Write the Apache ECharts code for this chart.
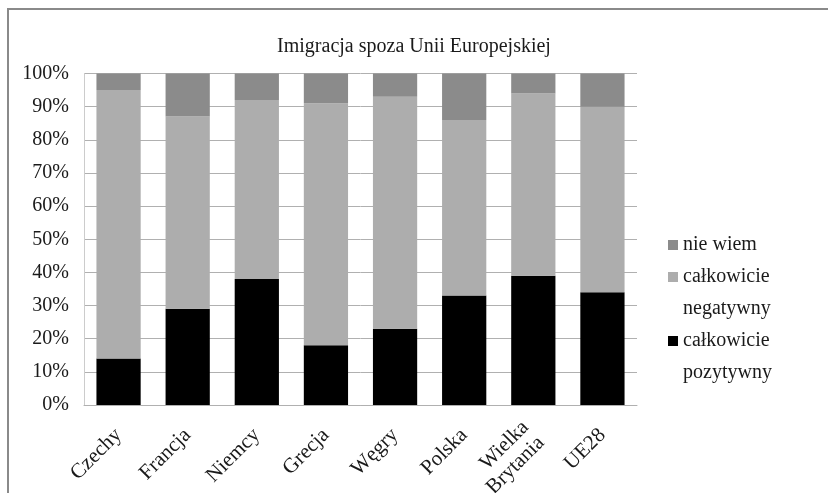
<!DOCTYPE html>
<html>
<head>
<meta charset="utf-8">
<script src="https://cdn.jsdelivr.net/npm/echarts@6/dist/echarts.min.js"></script>
<style>
html,body{margin:0;padding:0;background:#fff;}
#chart{width:828px;height:493px;}
</style>
</head>
<body>
<div id="chart"></div>
<script>
const categories = ['Czechy','Francja','Niemcy','Grecja','Węgry','Polska','Wielka Brytania','UE28'];
const pozytywny = [14, 29, 38, 18, 23, 33, 39, 34];
const negatywny = [81, 58, 54, 73, 70, 53, 55, 56];
const nieWiem = [5, 13, 8, 9, 7, 14, 6, 10];
const yTicks = [0,10,20,30,40,50,60,70,80,90,100];

const FONT = '"Liberation Serif", "Times New Roman", serif';
const chart = echarts.init(document.getElementById('chart'));
chart.setOption({
  backgroundColor: '#fff',
  animation: false,
  title: {
    text: 'Imigracja spoza Unii Europejskiej',
    left: 'center', top: 32,
    textStyle: {fontFamily: FONT, fontSize: 20, fontWeight: 'normal', color: '#1a1a1a'}
  },
  graphic: [{
    type: 'rect', silent: true,
    shape: {x: 8, y: 9, width: 900, height: 600},
    style: {fill: 'none', stroke: '#8a8a8a', lineWidth: 2}
  }],
  legend: {
    orient: 'vertical',
    left: 668, top: 229,
    padding: 0,
    itemWidth: 10, itemHeight: 10,
    itemGap: -32,
    icon: 'rect',
    data: ['nie wiem', 'całkowicie negatywny', 'całkowicie pozytywny'],
    formatter: n => n.indexOf('całkowicie ') === 0 ? '\n' + n.replace('całkowicie ', 'całkowicie\n') : n,
    textStyle: {fontFamily: FONT, fontSize: 20, color: '#1a1a1a', lineHeight: 32}
  },
  grid: {left: 84, right: 191, top: 73.5, bottom: 88, containLabel: false, outerBoundsMode: 'none'},
  xAxis: {
    type: 'category',
    data: categories,
    axisLine: {lineStyle: {color: '#b0b0b0', width: 1}},
    axisTick: {show: false},
    axisLabel: {
      rotate: 45, interval: 0, margin: 27,
      fontFamily: FONT, fontSize: 21, color: '#1a1a1a', lineHeight: 22,
      formatter: v => v.replace(' ', '\n')
    }
  },
  yAxis: {
    type: 'value',
    min: 0, max: 100, interval: 10,
    axisLine: {show: true, lineStyle: {color: '#cccccc'}},
    axisTick: {show: false},
    splitLine: {lineStyle: {color: '#b0b0b0', width: 1}},
    axisLabel: {
      margin: 15,
      fontFamily: FONT, fontSize: 20, color: '#1a1a1a',
      customValues: yTicks,
      formatter: '{value}%'
    }
  },
  series: [
    {name: 'całkowicie pozytywny', type: 'bar', stack: 's', data: pozytywny, barCategoryGap: '36%', itemStyle: {color: '#000000'}},
    {name: 'całkowicie negatywny', type: 'bar', stack: 's', data: negatywny, itemStyle: {color: '#adadad'}},
    {name: 'nie wiem', type: 'bar', stack: 's', data: nieWiem, itemStyle: {color: '#8b8b8b'}}
  ]
});
</script>
</body>
</html>
